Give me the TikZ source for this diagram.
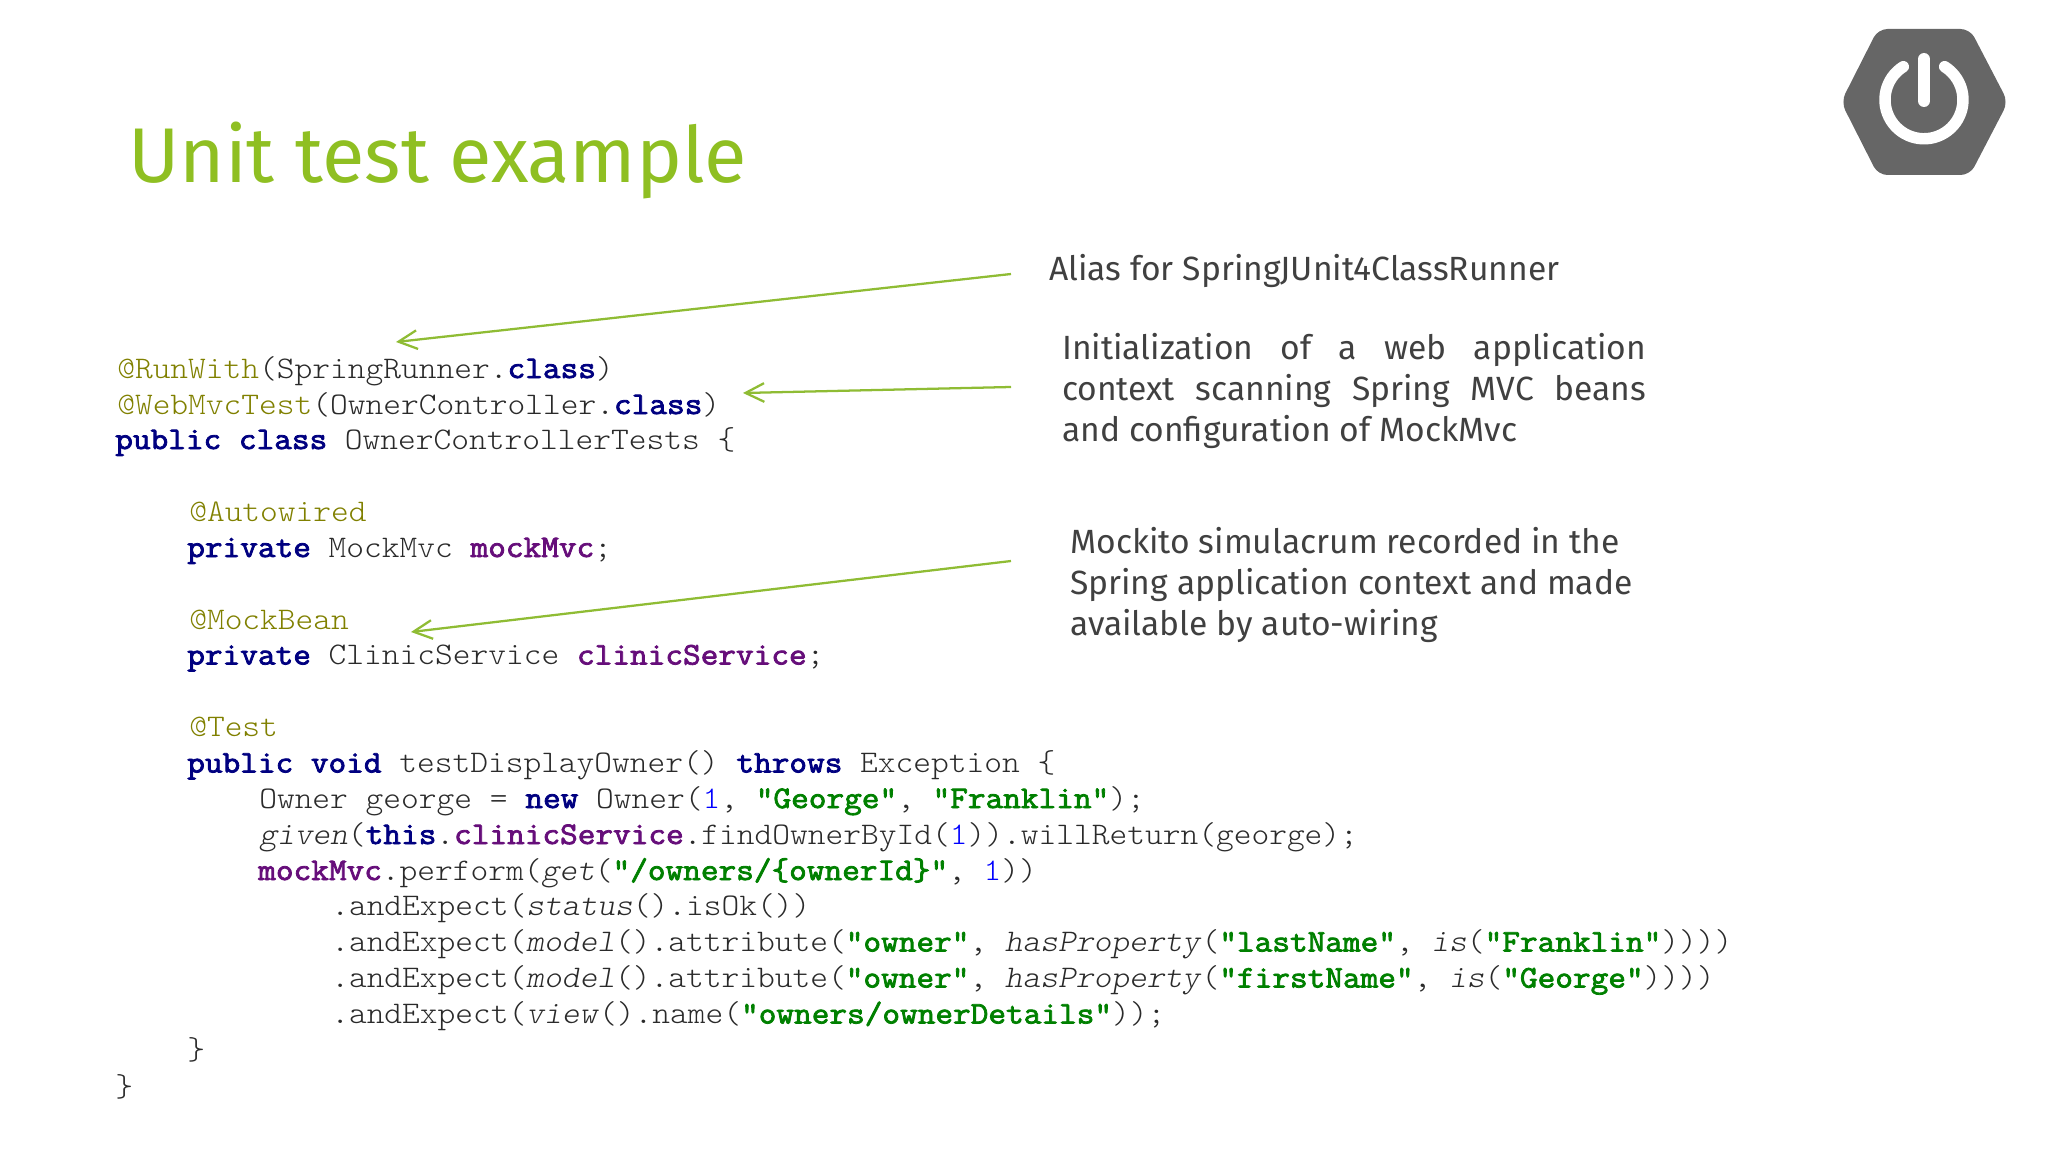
\documentclass[tikz,border=0pt]{standalone}
\usepackage{fontspec}
\usetikzlibrary{arrows.meta}
\setmainfont{Fira Sans}
\setmonofont[UprightFeatures={FakeStretch=1.074},ItalicFeatures={FakeStretch=1.074},BoldFont={Latin Modern Mono},BoldFeatures={FakeBold=2.5,FakeStretch=1.09}]{Latin Modern Mono Light}
\definecolor{titlegreen}{HTML}{8FBF22}
\definecolor{arrowgreen}{HTML}{8FBC34}
\definecolor{logogray}{HTML}{666666}
\definecolor{bodygray}{HTML}{404040}
\definecolor{anno}{HTML}{808000}
\definecolor{kw}{HTML}{000080}
\definecolor{fld}{HTML}{660E7A}
\definecolor{str}{HTML}{008000}
\definecolor{num}{HTML}{0000FF}
\definecolor{code}{HTML}{2A2A2A}
\newcommand{\An}[1]{\textcolor{anno}{#1}}
\newcommand{\Kw}[1]{\textcolor{kw}{\bfseries #1}}
\newcommand{\Fl}[1]{\textcolor{fld}{\bfseries #1}}
\newcommand{\St}[1]{\textcolor{str}{\bfseries #1}}
\newcommand{\Nm}[1]{\textcolor{num}{#1}}
\newcommand{\Sm}[1]{\textit{#1}}
\tikzset{
 px/.style={x=0.75pt,y=-0.75pt},
 codeline/.style={anchor=base west,inner sep=0pt,text=code,font=\ttfamily\fontsize{23.6pt}{26pt}\selectfont},
 note/.style={anchor=base west,inner sep=0pt,text=bodygray,font=\fontsize{25.2pt}{30pt}\selectfont},
 callout/.style={draw=arrowgreen,line width=1.7pt,-{Straight Barb[length=14pt,width=14pt,line width=1.7pt]}},
}
\begin{document}
\begin{tikzpicture}[px]
\useasboundingbox (0,0) rectangle (2048,1152);
\node[anchor=base west,inner sep=0pt,text=titlegreen,font=\fontsize{58.2pt}{60pt}\selectfont] (title) at (128,183) {Unit test example};
% logo
\fill[logogray,rounded corners=7pt] (1841,102) -- (1878,29) -- (1970,29) -- (2008,102) -- (1970,175) -- (1878,175) -- cycle;
\draw[white,line width=8.6pt,line cap=round] (1903.3,66.7) arc[start angle=-122,delta angle=-296,radius=39];
\draw[white,line width=9pt,line cap=round] (1924,59) -- (1924,101);
% code
\node[codeline] (c1) at (117,378) {\An{@RunWith}(SpringRunner.\Kw{class})};
\node[codeline] (c2) at (117,414) {\An{@WebMvcTest}(OwnerController.\Kw{class})};
\node[codeline] (c3) at (115,449) {\Kw{public class} OwnerControllerTests \{};
\node[codeline] (c4) at (189,521.5) {\An{@Autowired}};
\node[codeline] (c5) at (187,557) {\Kw{private} MockMvc \Fl{mockMvc};};
\node[codeline] (c6) at (189,629) {\An{@MockBean}};
\node[codeline] (c7) at (187,664.5) {\Kw{private} ClinicService \Fl{clinicService};};
\node[codeline] (c8) at (189,736.5) {\An{@Test}};
\node[codeline] (c9) at (187,772.5) {\Kw{public void} testDisplayOwner() \Kw{throws} Exception \{};
\node[codeline] (c10) at (259,808) {Owner george = \Kw{new} Owner(\Nm{1}, \St{"George"}, \St{"Franklin"});};
\node[codeline] (c11) at (259,844) {\Sm{given}(\Kw{this}.\Fl{clinicService}.findOwnerById(\Nm{1})).willReturn(george);};
\node[codeline] (c12) at (258,880) {\Fl{mockMvc}.perform(\Sm{get}(\St{"/owners/\{ownerId\}"}, \Nm{1}))};
\node[codeline] (c13) at (331,915.5) {.andExpect(\Sm{status}().isOk())};
\node[codeline] (c14) at (331,951.5) {.andExpect(\Sm{model}().attribute(\St{"owner"}, \Sm{hasProperty}(\St{"lastName"}, \Sm{is}(\St{"Franklin"}))))};
\node[codeline] (c15) at (331,987.5) {.andExpect(\Sm{model}().attribute(\St{"owner"}, \Sm{hasProperty}(\St{"firstName"}, \Sm{is}(\St{"George"}))))};
\node[codeline] (c16) at (331,1023.5) {.andExpect(\Sm{view}().name(\St{"owners/ownerDetails"}));};
\node[codeline] (c17) at (187,1059.5) {\}};
\node[codeline] (c18) at (115,1096) {\}};
% notes
\node[note] (n1) at (1049,280) {Alias for SpringJUnit4ClassRunner};
\node[note] (n2a) at (1062,359.5) {\makebox[438pt][s]{Initialization\hfill of\hfill a\hfill web\hfill application}};
\node[note] (n2b) at (1062,400) {\makebox[438pt][s]{context\hfill scanning\hfill Spring\hfill MVC\hfill beans}};
\node[note] (n2c) at (1062,441) {and configuration of MockMvc};
\node[note] (n3a) at (1070,553) {Mockito simulacrum recorded in the};
\node[note] (n3b) at (1070,594) {Spring application context and made};
\node[note] (n3c) at (1070,635) {available by auto-wiring};
% arrows
\coordinate (a1s) at (1011,274); \coordinate (a1e) at (396,342);
\coordinate (a2s) at (1011,387); \coordinate (a2e) at (743,393);
\coordinate (a3s) at (1011,561); \coordinate (a3e) at (411,632);
\draw[callout] (a1s) -- (a1e);
\draw[callout] (a2s) -- (a2e);
\draw[callout] (a3s) -- (a3e);
\end{tikzpicture}
\end{document}
